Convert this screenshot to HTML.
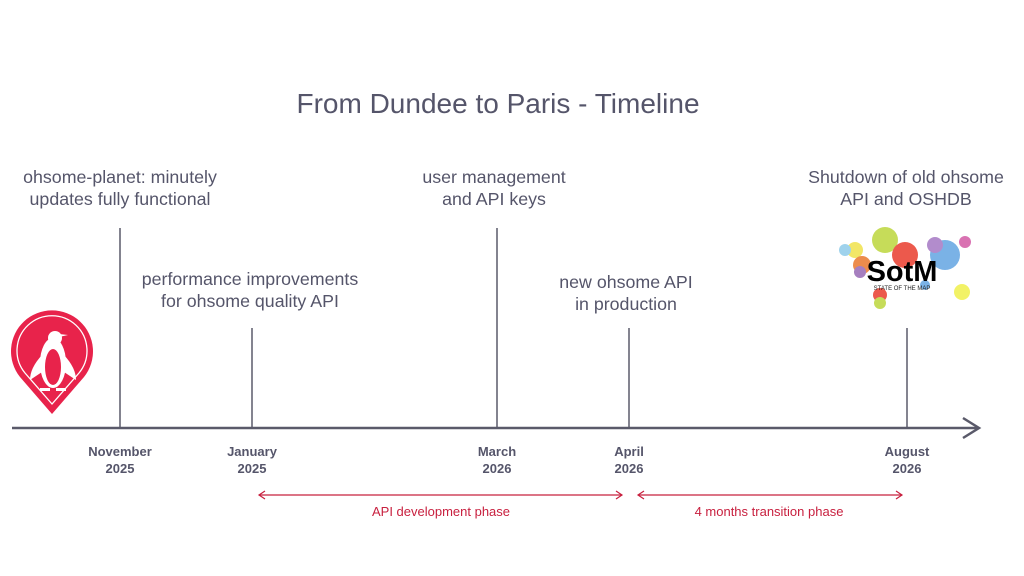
<!DOCTYPE html>
<html><head><style>
body{margin:0;width:1024px;height:576px;background:#fff;position:relative;overflow:hidden;font-family:"Liberation Sans",sans-serif;color:#55556a}
.t{position:absolute;text-align:center;font-size:17.8px;line-height:22px;transform:translateX(-50%);white-space:nowrap}
.d{position:absolute;text-align:center;font-size:13px;font-weight:bold;line-height:17px;transform:translateX(-50%);white-space:nowrap}
.r{position:absolute;font-size:13px;color:#c8203f;transform:translateX(-50%);white-space:nowrap}
</style></head><body>
<div class="t" style="left:498px;top:88px;font-size:28px;line-height:32px">From Dundee to Paris - Timeline</div>
<div class="t" style="left:120px;top:166px">ohsome-planet: minutely<br>updates fully functional</div>
<div class="t" style="left:250px;top:268px">performance improvements<br>for ohsome quality API</div>
<div class="t" style="left:494px;top:166px">user management<br>and API keys</div>
<div class="t" style="left:626px;top:271px">new ohsome API<br>in production</div>
<div class="t" style="left:906px;top:166px">Shutdown of old ohsome<br>API and OSHDB</div>
<div class="d" style="left:120px;top:443px">November<br>2025</div>
<div class="d" style="left:252px;top:443px">January<br>2025</div>
<div class="d" style="left:497px;top:443px">March<br>2026</div>
<div class="d" style="left:629px;top:443px">April<br>2026</div>
<div class="d" style="left:907px;top:443px">August<br>2026</div>
<div class="r" style="left:441px;top:504px">API development phase</div>
<div class="r" style="left:769px;top:504px">4 months transition phase</div>
<svg width="1024" height="576" style="position:absolute;left:0;top:0">
<g stroke="#5a5a6a" stroke-width="1.5">
<line x1="120" y1="228" x2="120" y2="428"/><line x1="252" y1="328" x2="252" y2="428"/>
<line x1="497" y1="228" x2="497" y2="428"/><line x1="629" y1="328" x2="629" y2="428"/>
<line x1="907" y1="328" x2="907" y2="428"/>
</g>
<line x1="12" y1="428" x2="978" y2="428" stroke="#5a5a6a" stroke-width="2.5"/>
<polyline points="963,418 979,428 963,438" fill="none" stroke="#5a5a6a" stroke-width="2.5"/>
<g stroke="#c8203f" stroke-width="1.2" fill="none">
<line x1="259" y1="495" x2="622" y2="495"/><polyline points="265,491 259,495 265,499"/><polyline points="616,491 622,495 616,499"/>
<line x1="638" y1="495" x2="902" y2="495"/><polyline points="644,491 638,495 644,499"/><polyline points="896,491 902,495 896,499"/>
</g>
<path d="M52,414 L20,377 A41,41 0 1 1 84,377 Z" fill="#e8234b"/>
<path d="M52,404 L25,373 A35,35 0 1 1 79,373 Z" fill="none" stroke="#fff" stroke-width="1.3"/>
<ellipse cx="53" cy="363" rx="13" ry="25" fill="#fff"/>
<circle cx="55" cy="338" r="7" fill="#fff"/>
<path d="M59,334 L68,335 L59,337Z" fill="#fff"/>
<ellipse cx="53" cy="367" rx="8" ry="18" fill="#e8234b"/>
<path d="M42,355 Q30,368 30,380 L42,372Z M64,355 Q76,368 76,380 L64,372Z" fill="#fff"/>
<path d="M40,388 L50,388 L50,391 L40,391Z M56,388 L66,388 L66,391 L56,391Z" fill="#fff"/>
<g opacity="0.8">
<circle cx="885" cy="240" r="13" fill="#b8d430"/><circle cx="855" cy="250" r="8" fill="#f0e040"/>
<circle cx="845" cy="250" r="6" fill="#88c8e8"/><circle cx="905" cy="255" r="13" fill="#e83020"/>
<circle cx="945" cy="255" r="15" fill="#5aa0e0"/><circle cx="935" cy="245" r="8" fill="#a070c0"/>
<circle cx="965" cy="242" r="6" fill="#d050a0"/><circle cx="862" cy="265" r="9" fill="#e87020"/>
<circle cx="860" cy="272" r="6" fill="#9060b0"/><circle cx="880" cy="295" r="7" fill="#e83020"/>
<circle cx="962" cy="292" r="8" fill="#f0f040"/><circle cx="880" cy="303" r="6" fill="#b8d430"/>
<circle cx="925" cy="285" r="5" fill="#5aa0e0"/>
</g>
<text x="902" y="281" font-family="Liberation Sans" font-weight="bold" font-size="29" text-anchor="middle" fill="#000">SotM</text>
<text x="902" y="290" font-family="Liberation Sans" font-size="6" text-anchor="middle" fill="#222">STATE OF THE MAP</text>
</svg>
</body></html>
